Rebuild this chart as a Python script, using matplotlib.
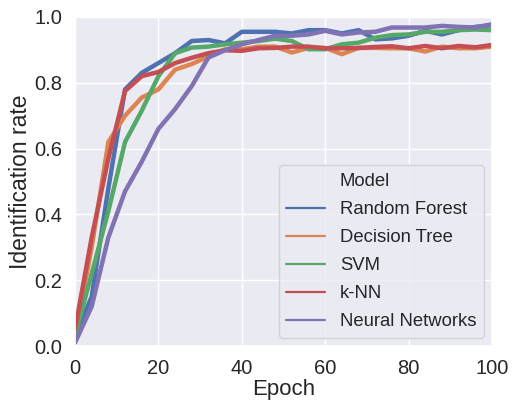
import numpy as np
import seaborn as sns
from matplotlib import pyplot as plt
from matplotlib.lines import Line2D

epochs = np.arange(0, 101, 4)

random_forest = [0.03, 0.15, 0.48, 0.78, 0.83, 0.86, 0.89, 0.927, 0.93, 0.92, 0.955, 0.955, 0.955,
                 0.95, 0.96, 0.96, 0.95, 0.96, 0.932, 0.935, 0.943, 0.958, 0.947, 0.96, 0.97, 0.975]
decision_tree = [0.03, 0.30, 0.62, 0.70, 0.755, 0.78, 0.84, 0.857, 0.88, 0.902, 0.902, 0.91, 0.91,
                 0.892, 0.906, 0.906, 0.887, 0.906, 0.906, 0.905, 0.905, 0.895, 0.91, 0.905, 0.905, 0.91]
svm = [0.03, 0.22, 0.41, 0.62, 0.715, 0.82, 0.89, 0.907, 0.91, 0.917, 0.922, 0.927, 0.934,
       0.927, 0.902, 0.902, 0.917, 0.922, 0.937, 0.945, 0.947, 0.955, 0.955, 0.96, 0.962, 0.96]
knn = [0.05, 0.33, 0.57, 0.775, 0.82, 0.833, 0.86, 0.876, 0.89, 0.899, 0.897, 0.905, 0.906,
       0.91, 0.91, 0.905, 0.905, 0.906, 0.909, 0.911, 0.905, 0.912, 0.905, 0.912, 0.908, 0.915]
neural_net = [0.01, 0.12, 0.33, 0.47, 0.56, 0.66, 0.72, 0.79, 0.877, 0.899, 0.917, 0.93, 0.943,
              0.943, 0.947, 0.958, 0.947, 0.953, 0.955, 0.968, 0.968, 0.968, 0.973, 0.97, 0.968, 0.978]

models = ["Random Forest", "Decision Tree", "SVM", "k-NN", "Neural Networks"]
series = [random_forest, decision_tree, svm, knn, neural_net]

sns.set_theme(style="darkgrid")
plt.rcParams["font.family"] = ["Liberation Sans", "DejaVu Sans"]

colors = sns.color_palette("deep")

fig = plt.figure(figsize=(5.26, 4.0), dpi=100)
ax = fig.add_axes([75 / 526, 1 - 346 / 400, (492 - 75) / 526, (346 - 17) / 400])

for i, (name, vals) in enumerate(zip(models, series)):
    ax.plot(epochs, vals, color=colors[i], lw=3.2, label=name)

ax.set_xlim(0, 100)
ax.set_ylim(0, 1.0)
ax.set_xticks([0, 20, 40, 60, 80, 100])
ax.set_yticks([0.0, 0.2, 0.4, 0.6, 0.8, 1.0])
ax.tick_params(labelsize=14.5, pad=3, colors="#262626")
ax.set_xlabel("Epoch", fontsize=16, labelpad=1, color="#262626")
ax.set_ylabel("Identification rate", fontsize=16.5, labelpad=2, color="#262626")

handles = [Line2D([], [], color="none")]
labels = ["Model"]
for i, name in enumerate(models):
    handles.append(Line2D([], [], color=colors[i], lw=1.6))
    labels.append(name)
leg = ax.legend(handles, labels, loc="lower right", fontsize=13.3, frameon=True,
                handlelength=2.1, borderaxespad=0.45, labelspacing=0.6)
for t in leg.get_texts():
    t.set_color("#262626")

fig.savefig("out.png", dpi=100)
